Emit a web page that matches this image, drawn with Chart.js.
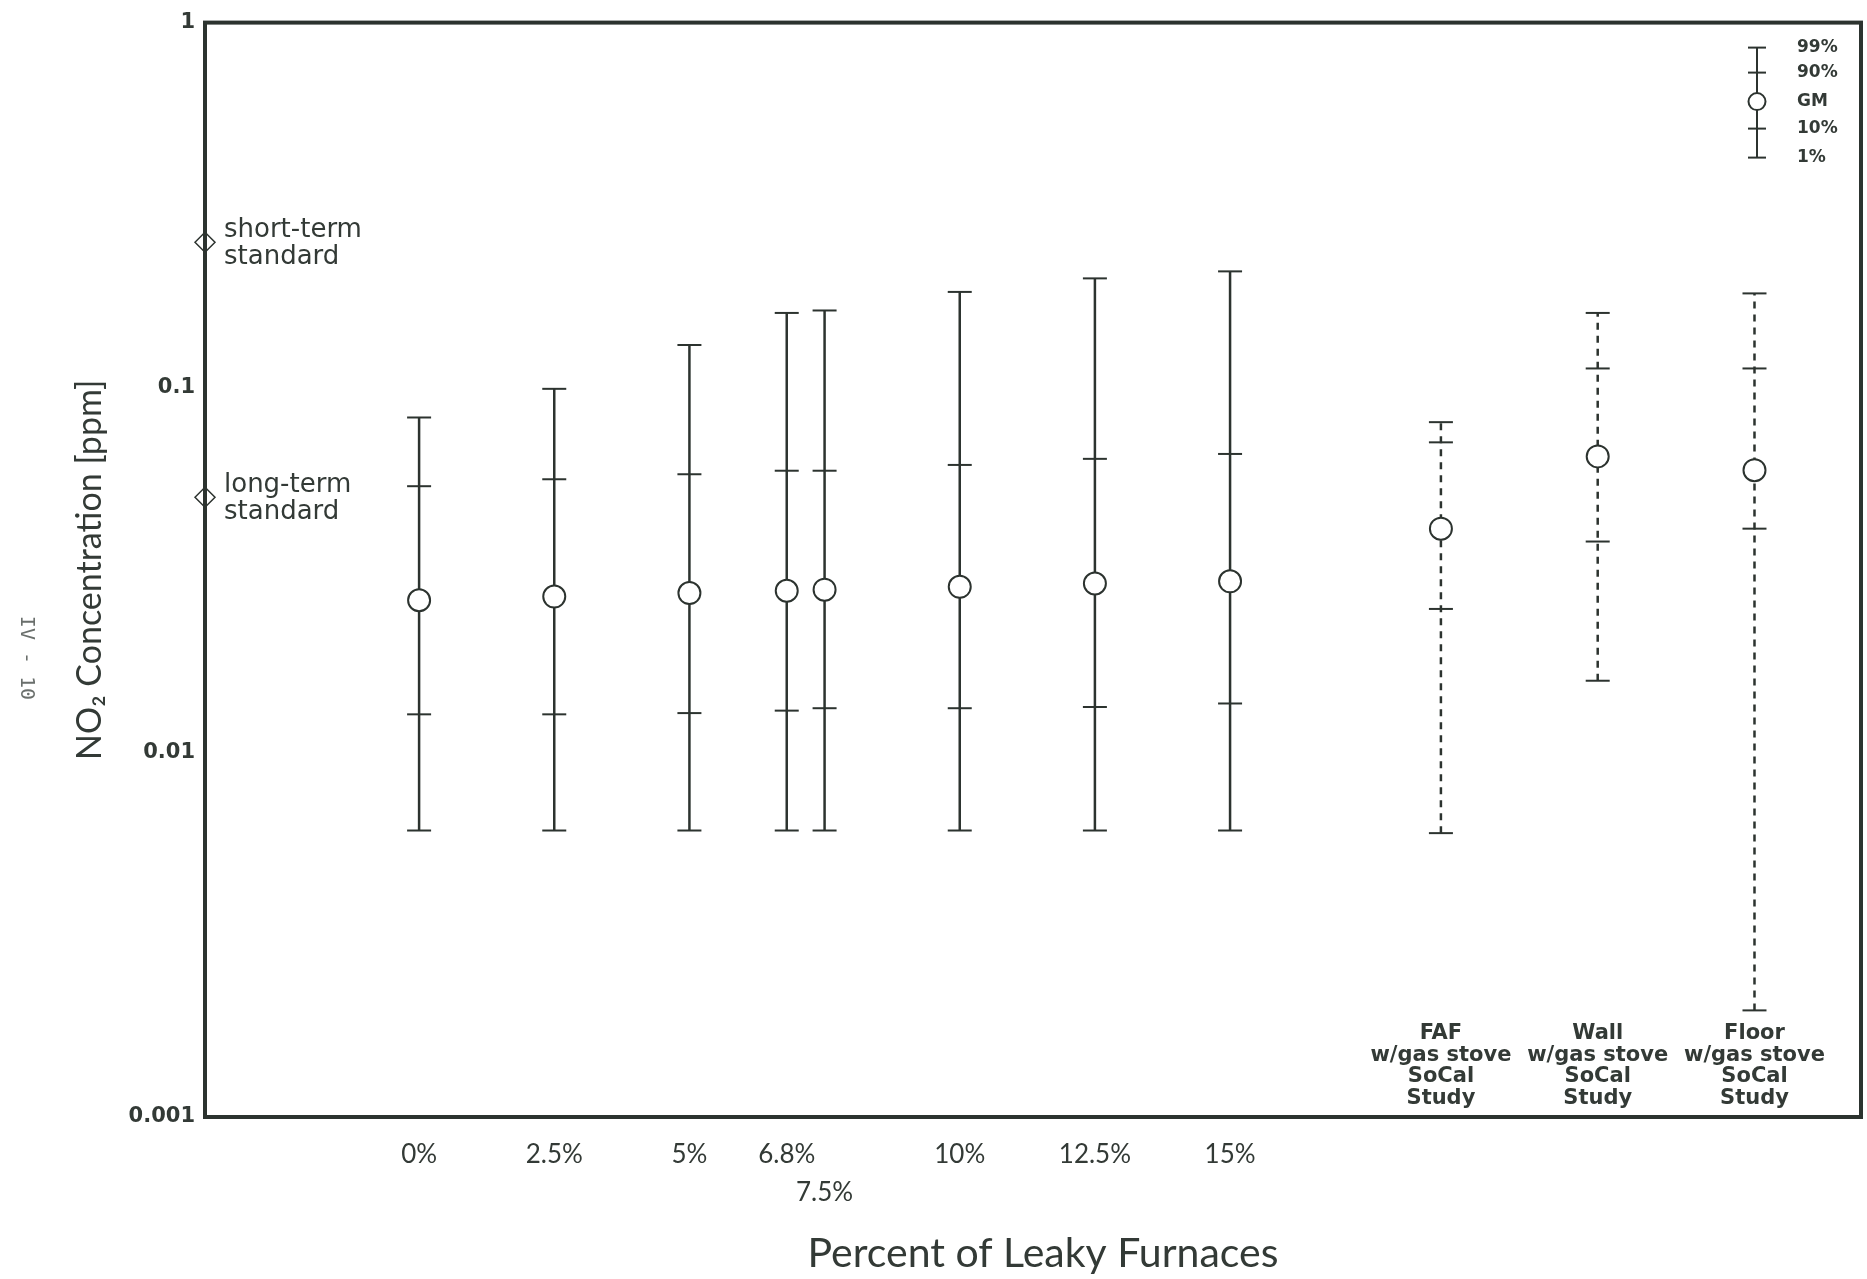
<!DOCTYPE html>
<html>
<head>
<meta charset="utf-8">
<script src="https://cdn.jsdelivr.net/npm/chart.js@4"></script>
<style>
  html, body { margin: 0; padding: 0; background: #fff; overflow: hidden; }
  #wrap { width: 1867px; height: 1279px; }
  canvas { display: block; }
</style>
</head>
<body>
<div id="wrap"><canvas id="no2Chart" width="1867" height="1279"></canvas></div>
<script>
// groups along the x axis (percent leaky furnaces + the SoCal study groups)
const groups = ['0%', '2.5%', '5%', '6.8%', '7.5%', '10%', '12.5%', '15%', 'FAF', 'Wall', 'Floor'];
const xPos = [0, 2.5, 5, 6.8, 7.5, 10, 12.5, 15, 18.9, 21.8, 24.7];
const xTicks = [0, 2.5, 5, 6.8, 7.5, 10, 12.5, 15];
const yTicks = [0.001, 0.01, 0.1, 1];

// NO2 distribution per group [ppm]
const p1  = [0.0061, 0.0061, 0.0061, 0.0061, 0.0061, 0.0061, 0.0061, 0.0061, 0.0060, 0.0157, 0.00196];
const p10 = [0.0127, 0.0127, 0.0128, 0.0130, 0.0132, 0.0132, 0.0133, 0.0136, 0.0247, 0.0378, 0.0410];
const gm  = [0.0261, 0.0267, 0.0273, 0.0277, 0.0279, 0.0284, 0.0290, 0.0294, 0.0410, 0.0647, 0.0593];
const p90 = [0.0536, 0.0560, 0.0578, 0.0591, 0.0591, 0.0613, 0.0637, 0.0657, 0.0707, 0.1127, 0.1127];
const p99 = [0.0827, 0.0991, 0.1307, 0.1600, 0.1625, 0.1827, 0.1990, 0.2080, 0.0803, 0.1600, 0.1810];
const studyGroup = [false, false, false, false, false, false, false, false, true, true, true];
const studyLabels = [
  ['FAF', 'w/gas stove', 'SoCal', 'Study'],
  ['Wall', 'w/gas stove', 'SoCal', 'Study'],
  ['Floor', 'w/gas stove', 'SoCal', 'Study']
];

// standards
const stdNames = [['short-term', 'standard'], ['long-term', 'standard']];
const stdValues = [0.25, 0.05];

const ink = '#2c332f';
const textInk = '#333a36';

const errorBars = {
  id: 'errorBars',
  beforeDatasetsDraw(chart) {
    const ctx = chart.ctx, x = chart.scales.x, y = chart.scales.y;
    ctx.save();
    ctx.strokeStyle = ink;
    for (let i = 0; i < xPos.length; i++) {
      const px = x.getPixelForValue(xPos[i]);
      ctx.lineWidth = 2.5;
      ctx.setLineDash(studyGroup[i] ? [7, 6] : []);
      ctx.beginPath();
      ctx.moveTo(px, y.getPixelForValue(p1[i]));
      ctx.lineTo(px, y.getPixelForValue(p99[i]));
      ctx.stroke();
      ctx.setLineDash([]);
      ctx.lineWidth = 2;
      for (let v of [p1[i], p10[i], p90[i], p99[i]]) {
        const py = y.getPixelForValue(v);
        ctx.beginPath();
        ctx.moveTo(px - 12, py);
        ctx.lineTo(px + 12, py);
        ctx.stroke();
      }
    }
    ctx.restore();
  },
  afterDraw(chart) {
    const ctx = chart.ctx, a = chart.chartArea, x = chart.scales.x, y = chart.scales.y;
    ctx.save();
    // frame
    ctx.strokeStyle = ink;
    ctx.lineWidth = 4;
    ctx.strokeRect(a.left, a.top, a.right - a.left, a.bottom - a.top);

    // standards labels
    ctx.fillStyle = textInk;
    ctx.font = '26px "DejaVu Sans", sans-serif';
    ctx.textAlign = 'left';
    ctx.textBaseline = 'middle';
    stdNames.forEach((lines, k) => {
      const py = y.getPixelForValue(stdValues[k]);
      ctx.fillText(lines[0], a.left + 19, py - 12);
      ctx.fillText(lines[1], a.left + 19, py + 15);
    });

    // study group labels
    ctx.font = 'bold 21px "DejaVu Sans", sans-serif';
    ctx.textAlign = 'center';
    let s = 0;
    for (let i = 0; i < xPos.length; i++) {
      if (!studyGroup[i]) continue;
      const px = x.getPixelForValue(xPos[i]);
      studyLabels[s].forEach((t, j) => {
        ctx.fillText(t, px, a.bottom - 83 + j * 21.5);
      });
      s++;
    }

    // key in top right
    const kx = a.right - 104;
    const ky = [a.top + 25, a.top + 50, a.top + 79, a.top + 106, a.top + 135];
    const kl = ['99%', '90%', 'GM', '10%', '1%'];
    ctx.strokeStyle = ink;
    ctx.lineWidth = 2;
    ctx.beginPath();
    ctx.moveTo(kx, ky[0]);
    ctx.lineTo(kx, ky[4]);
    ctx.stroke();
    [0, 1, 3, 4].forEach(k => {
      ctx.beginPath();
      ctx.moveTo(kx - 9, ky[k]);
      ctx.lineTo(kx + 9, ky[k]);
      ctx.stroke();
    });
    ctx.beginPath();
    ctx.arc(kx, ky[2], 8.5, 0, Math.PI * 2);
    ctx.fillStyle = '#fff';
    ctx.fill();
    ctx.stroke();
    ctx.fillStyle = textInk;
    ctx.font = 'bold 17px "DejaVu Sans", sans-serif';
    ctx.textAlign = 'left';
    kl.forEach((t, k) => ctx.fillText(t, kx + 40, ky[k]));

    // page number in the margin
    ctx.save();
    ctx.translate(26, 658);
    ctx.rotate(Math.PI / 2);
    ctx.fillStyle = '#6a6f6c';
    ctx.font = '20px "DejaVu Sans Mono", monospace';
    ctx.textAlign = 'center';
    ctx.fillText('IV - 10', 0, 0);
    ctx.restore();

    // x axis title, sits a little right of the plot centre in the original
    ctx.fillStyle = textInk;
    ctx.font = '41px Lato, sans-serif';
    ctx.textAlign = 'center';
    ctx.textBaseline = 'middle';
    ctx.fillText('Percent of Leaky Furnaces', (a.left + a.right) / 2 + 10, a.bottom + 137);
    ctx.restore();
  }
};

const ctx = document.getElementById('no2Chart').getContext('2d');
const chart = new Chart(ctx, {
  type: 'scatter',
  data: {
    datasets: [
      {
        label: 'GM',
        data: xPos.map((v, i) => ({ x: v, y: gm[i] })),
        pointRadius: 11,
        pointHoverRadius: 11,
        pointBackgroundColor: '#fff',
        pointBorderColor: ink,
        pointBorderWidth: 2,
      },
      {
        label: 'standards',
        data: stdValues.map(v => ({ x: -3.96, y: v })),
        pointStyle: 'rectRot',
        pointRadius: 10,
        pointBackgroundColor: 'rgba(255,255,255,0)',
        pointBorderColor: ink,
        pointBorderWidth: 1.5,
        clip: false,
      }
    ]
  },
  options: {
    responsive: false,
    animation: false,
    events: [],
    layout: { autoPadding: false, padding: { top: 18, right: 6, left: 0, bottom: 0 } },
    plugins: { legend: { display: false }, tooltip: { enabled: false } },
    scales: {
      x: {
        type: 'linear',
        min: -3.96,
        max: 26.67,
        afterBuildTicks: s => { s.ticks = xTicks.map(v => ({ value: v })); },
        afterFit: s => { s.height = 162; },
        grid: { display: false, drawTicks: false },
        border: { display: false },
        ticks: {
          autoSkip: false,
          maxRotation: 0,
          padding: 19,
          color: textInk,
          font: { family: 'Lato, sans-serif', size: 26, lineHeight: 1.45 },
          callback: v => v === 7.5 ? ['', '7.5%'] : v + '%'
        },
        title: { display: false }
      },
      y: {
        type: 'logarithmic',
        min: 0.001,
        max: 1,
        afterBuildTicks: s => { s.ticks = yTicks.map(v => ({ value: v })); },
        afterFit: s => { s.width = 205; },
        grid: { display: false, drawTicks: false },
        border: { display: false },
        ticks: {
          padding: 10,
          color: textInk,
          font: { family: '"DejaVu Sans", sans-serif', size: 21, weight: 'bold' },
          callback: v => String(v)
        },
        title: {
          display: true,
          text: 'NO₂ Concentration [ppm]',
          color: textInk,
          font: { family: 'Lato, sans-serif', size: 34 },
          padding: { top: 70, bottom: 0 }
        }
      }
    }
  },
  plugins: [errorBars]
});
</script>
</body>
</html>
